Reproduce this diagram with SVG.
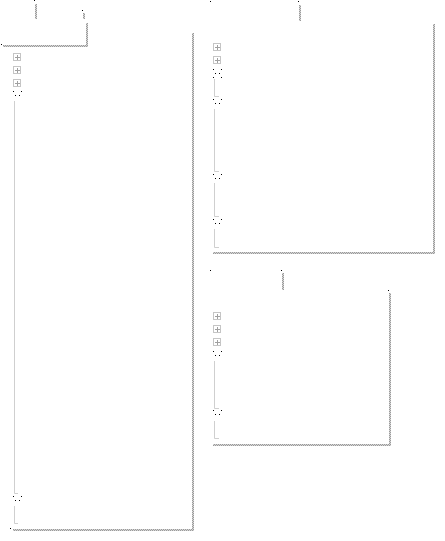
<svg xmlns="http://www.w3.org/2000/svg" width="445" height="541" viewBox="0 0 445 541">
<defs>
<pattern id="chk" x="0" y="0" width="2" height="2" patternUnits="userSpaceOnUse">
<rect x="0" y="0" width="2" height="2" fill="#d6d6d6"/>
<rect x="0" y="0" width="1" height="1" fill="#9a9a9a"/>
<rect x="1" y="1" width="1" height="1" fill="#9a9a9a"/>
</pattern>
<g id="plus">
<rect x="0.5" y="0.5" width="7" height="7" fill="none" stroke="#8a8a8a" stroke-width="1" stroke-dasharray="1,1"/>
<path d="M4.5 2V7M2 4.5H7" stroke="#a0a0a0" stroke-width="1" fill="none"/>
</g>
<g id="ell3">
<rect x="0" y="0" width="1" height="1"/>
<rect x="8" y="0" width="1" height="1"/>
<rect x="2" y="4" width="1" height="1"/>
<rect x="6" y="4" width="1" height="1"/>
</g>
</defs>
<style>
.sh{fill:url(#chk)}
.dot{fill:#000}
.tl{stroke:#cfcfcf;stroke-width:1;fill:none}
</style>
<rect width="445" height="541" fill="#fff"/>

<g id="panel1">
<rect class="dot" x="34" y="0" width="1" height="1"/>
<rect class="sh" x="35" y="4" width="2" height="15"/>
<rect class="dot" x="82" y="10" width="1" height="1"/>
<rect class="sh" x="83" y="13" width="2" height="6"/>
<rect class="sh" x="86" y="23" width="2" height="22"/>
<rect class="dot" x="1" y="44" width="1" height="1"/>
<rect class="sh" x="3" y="45" width="85" height="2"/>
<rect class="sh" x="192" y="33" width="2" height="498"/>
<rect class="sh" x="13" y="529" width="181" height="2"/>
<rect class="dot" x="10" y="528" width="1" height="1"/>
<use href="#plus" x="13" y="53"/>
<use href="#plus" x="13" y="66"/>
<use href="#plus" x="13" y="79"/>
<use href="#ell3" x="13" y="91" fill="#000"/>
<use href="#ell3" x="13" y="496" fill="#000"/>
</g>

<g id="panel2">
<rect class="dot" x="210" y="1" width="1" height="1"/>
<rect class="dot" x="298" y="1" width="1" height="1"/>
<rect class="sh" x="299" y="5" width="2" height="16"/>
<rect class="sh" x="433" y="24" width="2" height="230"/>
<rect class="sh" x="213" y="252" width="222" height="2"/>
<use href="#plus" x="213" y="43"/>
<use href="#plus" x="213" y="56"/>
<use href="#ell3" x="213" y="69" fill="#000"/>
<rect class="dot" x="213" y="77" width="1" height="1"/>
<rect class="dot" x="221" y="77" width="1" height="1"/>
<use href="#ell3" x="213" y="99" fill="#000"/>
<use href="#ell3" x="213" y="174" fill="#000"/>
<use href="#ell3" x="213" y="219" fill="#000"/>
</g>

<g id="panel3">
<rect class="dot" x="210" y="270" width="1" height="1"/>
<rect class="dot" x="281" y="270" width="1" height="1"/>
<rect class="sh" x="282" y="273" width="2" height="17"/>
<rect class="dot" x="388" y="290" width="1" height="1"/>
<rect class="sh" x="389" y="293" width="2" height="153"/>
<rect class="sh" x="213" y="444" width="178" height="2"/>
<use href="#plus" x="213" y="312"/>
<use href="#plus" x="213" y="325"/>
<use href="#plus" x="213" y="338"/>
<use href="#ell3" x="213" y="351" fill="#000"/>
<use href="#ell3" x="213" y="410" fill="#000"/>
</g>

<g id="connectors">
<path class="tl" d="M14.5 101V493.5H18"/>
<path class="tl" d="M14.5 506V523.5H18"/>
<path class="tl" d="M214.5 79V96.5H219"/>
<path class="tl" d="M214.5 109V171.5H219"/>
<path class="tl" d="M214.5 183V216.5H219"/>
<path class="tl" d="M214.5 229V247.5H219"/>
<path class="tl" d="M214.5 361V408.5H219"/>
<path class="tl" d="M214.5 421V438.5H219"/>
</g>
</svg>
